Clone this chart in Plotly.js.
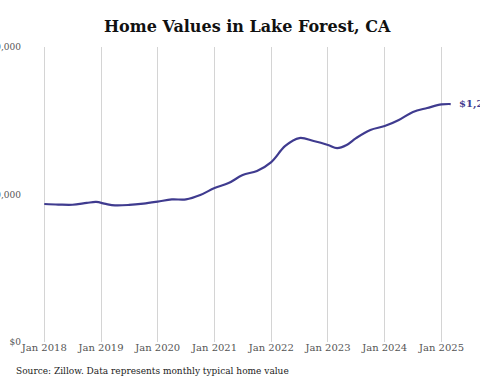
<!DOCTYPE html>
<html><head><meta charset="utf-8">
<script src="https://cdn.plot.ly/plotly-3.0.1.min.js"></script>
<style>html,body{margin:0;padding:0;background:#fff;}#chart{width:480px;height:384px;}</style>
</head><body><div id="chart"></div>
<script>
const dates = ['2018-01-01','2018-04-01','2018-07-01','2018-10-01','2018-12-01','2019-02-01','2019-04-01','2019-07-01','2019-10-01',
'2020-01-01','2020-04-01','2020-07-01','2020-10-01','2021-01-01','2021-04-01','2021-07-01','2021-10-01',
'2022-01-01','2022-04-01','2022-07-01','2022-10-01','2023-01-01','2023-03-01','2023-05-01','2023-07-01','2023-10-01',
'2024-01-01','2024-04-01','2024-07-01','2024-10-01','2025-01-01','2025-03-01'];
const values = [701700,699000,698000,707000,712000,702000,695000,697000,704000,
714000,725000,725000,747000,783000,808000,849000,870000,
915000,997000,1037000,1022000,1002000,986000,1002000,1037000,1078000,
1098000,1129000,1170000,1190000,1208000,1210000];
const yTicks = [0, 750000, 1500000];
const yTickLabels = ['$0', '$750,000', '$1,500,000'];
const xTicks = ['2018-01-01','2019-01-01','2020-01-01','2021-01-01','2022-01-01','2023-01-01','2024-01-01','2025-01-01'];
const xTickLabels = ['Jan 2018','Jan 2019','Jan 2020','Jan 2021','Jan 2022','Jan 2023','Jan 2024','Jan 2025'];
const lastLabel = '$1,210,000';
const titleText = 'Home Values in Lake Forest, CA';
const sourceText = 'Source: Zillow. Data represents monthly typical home value';

const serif = 'DejaVu Serif, serif';
const lineColor = '#3f3b8f';

Plotly.newPlot('chart', [{
  x: dates, y: values, type: 'scatter', mode: 'lines',
  line: {color: lineColor, width: 2.2, shape: 'spline', smoothing: 1},
  hoverinfo: 'skip'
}], {
  width: 480, height: 384,
  margin: {l: 30, r: 15, t: 47, b: 42},
  paper_bgcolor: '#fff', plot_bgcolor: '#fff',
  showlegend: false,
  title: {text: '<b>' + titleText + '</b>', font: {family: serif, size: 16, color: '#111'}, x: 0.515, xanchor: 'center', y: 0.93, yanchor: 'middle'},
  xaxis: {
    type: 'date', range: ['2017-10-01', '2025-06-01'],
    tickvals: xTicks, ticktext: xTickLabels,
    showgrid: true, gridcolor: '#d4d4d4', gridwidth: 1,
    zeroline: false, showline: false, ticks: '',
    ticklabelstandoff: -2,
    tickfont: {family: serif, size: 10, color: '#555'}
  },
  yaxis: {
    range: [0, 1500000], tickvals: yTicks, ticktext: yTickLabels,
    showgrid: false, zeroline: false, showline: false, ticks: '',
    ticklabelstandoff: 8,
    tickfont: {family: serif, size: 9, color: '#555'}
  },
  annotations: [
    {x: dates[dates.length-1], y: values[values.length-1], xref: 'x', yref: 'y',
     text: '<b>' + lastLabel + '</b>', showarrow: false, xanchor: 'left', xshift: 6,
     font: {family: serif, size: 10, color: lineColor}},
    {x: 0, y: 0, xref: 'paper', yref: 'paper', xanchor: 'left', yanchor: 'top',
     text: sourceText, showarrow: false, xshift: -16, yshift: -22,
     font: {family: serif, size: 9, color: '#222'}}
  ]
}, {displayModeBar: false, staticPlot: true});
</script></body></html>
